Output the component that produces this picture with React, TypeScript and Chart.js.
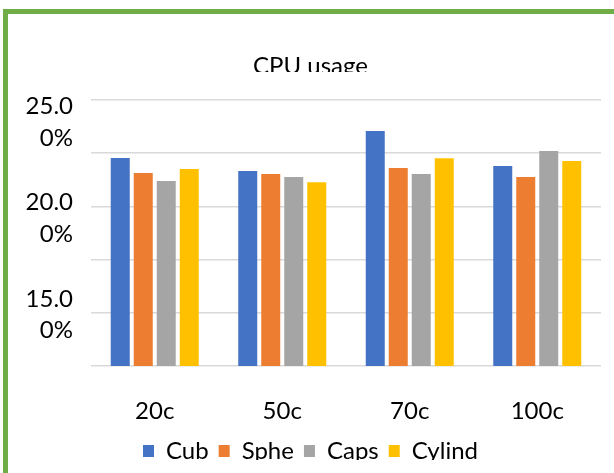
import React, { useEffect, useRef } from 'react';
import { Chart, registerables } from 'chart.js';

Chart.register(...registerables);

// ---- data ----
const TITLE = 'CPU usage';
const CATEGORIES = ['20c', '50c', '70c', '100c'];
const SERIES_NAMES = ['Cub', 'Sphe', 'Caps', 'Cylind'];
const CUB = [22.27, 21.66, 23.54, 21.9];
const SPHE = [21.57, 21.52, 21.8, 21.38];
const CAPS = [21.19, 21.38, 21.52, 22.6];
const CYLIND = [21.76, 21.13, 22.26, 22.13];
const SERIES_VALUES = [CUB, SPHE, CAPS, CYLIND];
const COLORS = ['#4472C4', '#ED7D31', '#A5A5A5', '#FFC000'];

const Y_MIN = 12.5;
const Y_MAX = 25;
const Y_STEP = 2.5;
// labelled ticks (drawn on a label-only axis, as in the original where the labels sit below their gridlines)
const Y_LABEL_VALUES = [15, 20, 25];
const LABEL_AXIS_MIN = 12.32;
const LABEL_AXIS_MAX = 26.17;

const FONT_FAMILY = 'Lato, "Liberation Sans", sans-serif';
const FONT_SIZE = 24;
const TEXT_COLOR = '#000000';
const GRID_COLOR = '#D9D9D9';
const FRAME_COLOR = '#70AD47';

Chart.defaults.font.family = FONT_FAMILY;

const framePlugin = {
  id: 'frame',
  beforeDraw(chart: any) {
    const { ctx, width, height } = chart;
    ctx.save();
    ctx.fillStyle = FRAME_COLOR;
    ctx.fillRect(3, 9, 5, height - 9);
    ctx.fillRect(3, 9, width - 3, 5);
    ctx.restore();
  },
  afterDraw(chart: any) {
    // the original chart crops the title and legend text at their baselines
    const { ctx, width, height } = chart;
    ctx.save();
    ctx.fillStyle = '#ffffff';
    ctx.fillRect(8, 72, width - 8, 22);
    ctx.fillRect(8, 460, width - 8, height - 460);
    ctx.restore();
  },
};

function formatWrapped(v: number) {
  const s = v.toFixed(2) + '%';
  return [s.slice(0, 4), s.slice(4)];
}

export default function App() {
  const canvasRef = useRef<HTMLCanvasElement | null>(null);

  useEffect(() => {
    if (!canvasRef.current) return;
    const chart = new Chart(canvasRef.current, {
      type: 'bar',
      data: {
        labels: CATEGORIES,
        datasets: SERIES_NAMES.map((name, i) => ({
          label: name,
          data: SERIES_VALUES[i],
          backgroundColor: COLORS[i],
          borderWidth: 0,
          categoryPercentage: 0.7216,
          barPercentage: 0.826,
          yAxisID: 'y',
        })),
      },
      options: {
        responsive: false,
        animation: false,
        layout: { padding: { left: 20, right: 13, top: 0, bottom: 0 } },
        plugins: {
          title: {
            display: true,
            text: TITLE,
            color: TEXT_COLOR,
            font: { size: FONT_SIZE, weight: 'normal', lineHeight: 1.2 },
            padding: { top: 52.1, bottom: 19.1 },
          },
          legend: {
            position: 'bottom',
            labels: {
              boxWidth: 11,
              boxHeight: 12,
              padding: 10,
              color: TEXT_COLOR,
              font: { size: FONT_SIZE },
            },
          },
          tooltip: { enabled: false },
        },
        scales: {
          x: {
            grid: { display: false },
            border: { display: false },
            ticks: { color: TEXT_COLOR, font: { size: FONT_SIZE }, padding: 23 },
            afterFit: (s: any) => {
              s.height = 63;
            },
          },
          y: {
            position: 'left',
            weight: 0,
            min: Y_MIN,
            max: Y_MAX,
            ticks: { display: false, stepSize: Y_STEP },
            grid: { color: GRID_COLOR, lineWidth: 1.5, drawTicks: false },
            border: { display: false },
            afterFit: (s: any) => {
              s.width = 0;
            },
          },
          yl: {
            type: 'linear',
            axis: 'y',
            position: 'left',
            weight: 1,
            min: LABEL_AXIS_MIN,
            max: LABEL_AXIS_MAX,
            grid: { display: false, drawTicks: false },
            border: { display: false },
            afterBuildTicks: (s: any) => {
              s.ticks = Y_LABEL_VALUES.map((v) => ({ value: v }));
            },
            ticks: {
              color: TEXT_COLOR,
              font: { size: FONT_SIZE, lineHeight: 1.3125 },
              padding: 18,
              callback: (v: any) => formatWrapped(Number(v)),
            },
            afterFit: (s: any) => {
              s.width = 71;
            },
          },
        } as any,
      },
      plugins: [framePlugin],
    } as any);
    return () => chart.destroy();
  }, []);

  return (
    <div style={{ position: 'absolute', left: 0, top: 0, width: 614, height: 473, background: '#fff' }}>
      <canvas ref={canvasRef} width={614} height={473} style={{ display: 'block' }} />
    </div>
  );
}
